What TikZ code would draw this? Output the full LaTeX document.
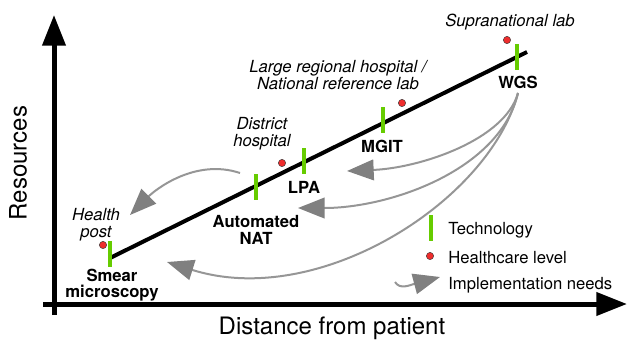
\documentclass[tikz,border=0pt]{standalone}
\usepackage{fontspec}
\setmainfont{TeX Gyre Heros}
\usetikzlibrary{arrows.meta}
\definecolor{techgreen}{RGB}{102,204,0}
\definecolor{dotred}{RGB}{238,45,45}
\definecolor{needgray}{RGB}{150,150,150}
\definecolor{needhead}{RGB}{128,128,128}

\begin{document}
\begin{tikzpicture}[x=0.75pt,y=-0.75pt,
    axis/.style={line width=3.75pt,-{Triangle[length=23pt,width=17pt]}},
    tech/.style={rectangle,fill=techgreen,inner sep=0pt,minimum width=3pt,minimum height=19.5pt},
    level/.style={circle,fill=dotred,draw=black!80,line width=0.3pt,inner sep=0pt,minimum size=5.5pt},
    techname/.style={font=\fontsize{12.5}{12.5}\selectfont\bfseries,align=center},
    levelname/.style={font=\fontsize{12.5}{12.5}\selectfont\itshape,align=center},
    keyname/.style={font=\fontsize{12.5}{12.5}\selectfont,anchor=west,inner sep=0pt},
    need/.style={draw=needgray,line width=1.5pt,-{Triangle[length=20pt,width=15.5pt,color=needhead]}},
]
\useasboundingbox (0,0) rectangle (627,344);

% axes
\coordinate (ybot) at (54,315);
\coordinate (ytop) at (54,15);
\coordinate (xbeg) at (43,304);
\coordinate (xend) at (627,304);
\draw[axis] (ybot) -- (ytop);
\draw[axis] (xbeg) -- (xend);
\node[rotate=90,font=\fontsize{18}{18}\selectfont] (ylab) at (18,163) {Resources};
\node[font=\fontsize{18}{18}\selectfont] (xlab) at (332,328) {Distance from patient};

% technologies along the line
\coordinate (lo) at (110,258);
\coordinate (hi) at (527,52);
\draw[line width=3pt] (lo) -- (hi);
\node[tech] (smear) at (110,254) {};
\node[tech] (nat) at (256,187) {};
\node[tech] (lpa) at (304,161) {};
\node[tech] (mgit) at (383,120) {};
\node[tech] (wgs) at (517,57) {};
\node[techname] (smearname) at (112,285) {Smear\\microscopy};
\node[techname] (natname) at (256,230) {Automated\\NAT};
\node[techname] (lpaname) at (304,187) {LPA};
\node[techname] (mgitname) at (382,146) {MGIT};
\node[techname] (wgsname) at (518,82) {WGS};

% healthcare levels
\node[level] (post) at (103,245) {};
\node[level] (district) at (282,163) {};
\node[level] (regional) at (402,103) {};
\node[level] (supra) at (507,40) {};
\node[levelname] (postname) at (96,225) {Health\\post};
\node[levelname] (districtname) at (262,134) {District\\hospital};
\node[levelname] (regionalname) at (338,75) {Large regional hospital /\\National reference lab};
\node[levelname] (supraname) at (510,22) {Supranational lab};

% implementation needs
\coordinate (natstart) at (240,173);
\coordinate (postend) at (130,215);
\coordinate (mgitend) at (347,171);
\coordinate (lpaend) at (298,208);
\coordinate (smearend) at (167,262);
\draw[need] (natstart) .. controls (195,158) and (155,190) .. (postend);
\draw[need] (wgsname.south) .. controls (505,140) and (420,168) .. (mgitend);
\draw[need] (wgsname.south) .. controls (500,170) and (390,208) .. (lpaend);
\draw[need] (wgsname.south) .. controls (490,200) and (320,310) .. (smearend);

% key
\node[tech] (keytech) at (431,228) {};
\node[keyname] (keytechname) at (448,230) {Technology};
\node[level] (keylevel) at (430,256) {};
\node[keyname] (keylevelname) at (448,258) {Healthcare level};
\coordinate (keyneed) at (395,282);
\coordinate (keyneedend) at (440,277);
\draw[need] (keyneed) .. controls (400,290) and (410,285) .. (keyneedend);
\node[keyname] (keyneedname) at (448,285) {Implementation needs};
\end{tikzpicture}
\end{document}
